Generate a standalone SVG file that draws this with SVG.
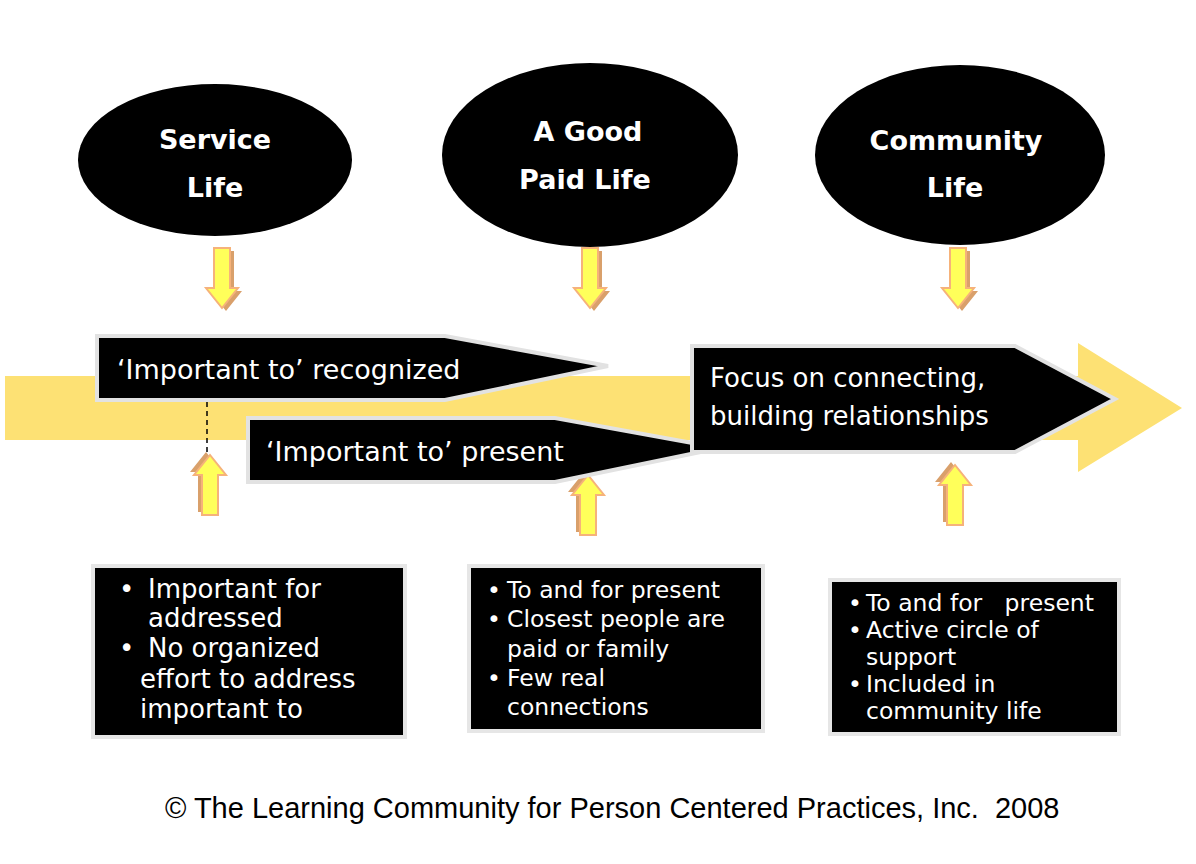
<svg xmlns="http://www.w3.org/2000/svg" width="1196" height="864" viewBox="0 0 1196 864">
<defs>
<style>
.ell{fill:#000}
.et{fill:#fff;font-family:"DejaVu Sans",sans-serif;font-weight:bold;font-size:27px;text-anchor:middle}
.ban{fill:#000;stroke:#e2e2e2;stroke-width:4;stroke-linejoin:miter}
.bt{fill:#fff;font-family:"DejaVu Sans",sans-serif;font-size:26px}
.bt2{fill:#fff;font-family:"DejaVu Sans",sans-serif;font-size:27px}
.box{fill:#000;stroke:#e6e6e6;stroke-width:4}
.xt{fill:#fff;font-family:"DejaVu Sans",sans-serif;font-size:23.5px}
.xt1{fill:#fff;font-family:"DejaVu Sans",sans-serif;font-size:26px}
.foot{fill:#000;font-family:"Liberation Sans",Arial,sans-serif;font-size:29px}
</style>
<g id="arr">
<path d="M-8,0 H8 V40 H16 L0,60 L-16,40 H-8 Z" fill="#d9a06b" transform="translate(4,3)"/>
<path d="M-8,0 H8 V40 H16 L0,60 L-16,40 H-8 Z" fill="#ffff5a" stroke="#f6b27a" stroke-width="2"/>
</g>
</defs>
<rect width="1196" height="864" fill="#fff"/>
<g id="band">
<path d="M5,376 H1078 V343 L1182,408 L1078,472 V440 H5 Z" fill="#fde174"/>
</g>
<g id="node-service"><ellipse class="ell" cx="215" cy="160" rx="137" ry="76"/><text class="et" x="215" y="149">Service</text><text class="et" x="215" y="197">Life</text></g>
<g id="node-paid"><ellipse class="ell" cx="590" cy="155" rx="148" ry="92"/><text class="et" x="588" y="141">A Good</text><text class="et" x="585" y="189">Paid Life</text></g>
<g id="node-community"><ellipse class="ell" cx="960" cy="155" rx="145" ry="90"/><text class="et" x="956" y="150">Community</text><text class="et" x="955" y="197">Life</text></g>
<g id="connectors">
<use href="#arr" x="222" y="248"/>
<use href="#arr" x="590" y="248"/>
<use href="#arr" x="958" y="248"/>
<use href="#arr" transform="translate(210,515) rotate(180)"/>
<use href="#arr" transform="translate(588,535) rotate(180)"/>
<use href="#arr" transform="translate(955,525) rotate(180)"/>
<line x1="207" y1="402" x2="207" y2="452" stroke="#000" stroke-width="1.5" stroke-dasharray="5,4"/>
</g>
<g id="banner-recognized"><path class="ban" d="M97,336 H445 L608,366 L445,400 H97 Z"/><text class="bt2" x="117" y="379">‘Important to’ recognized</text></g>
<g id="banner-present"><path class="ban" d="M248,418 H555 L720,448 L555,482 H248 Z"/><text class="bt2" x="266" y="461">‘Important to’ present</text></g>
<g id="banner-focus"><path class="ban" d="M692,346 H1015 L1115,399 L1015,452 H692 Z"/><text class="bt" x="710" y="387">Focus on connecting,</text><text class="bt" x="710" y="425">building relationships</text></g>
<g id="box-service"><rect class="box" x="93" y="566" width="312" height="171"/>
<text class="xt1" x="119" y="598">•</text><text class="xt1" x="148" y="598">Important for</text>
<text class="xt1" x="148" y="627">addressed</text>
<text class="xt1" x="119" y="657">•</text><text class="xt1" x="148" y="657">No organized</text>
<text class="xt1" x="140" y="688">effort to address</text>
<text class="xt1" x="140" y="718">important to</text></g>
<g id="box-paid"><rect class="box" x="469" y="566" width="294" height="165"/>
<text class="xt" x="487" y="598">•</text><text class="xt" x="507" y="598">To and for present</text>
<text class="xt" x="487" y="627">•</text><text class="xt" x="507" y="627">Closest people are</text>
<text class="xt" x="507" y="657">paid or family</text>
<text class="xt" x="487" y="686">•</text><text class="xt" x="507" y="686">Few real</text>
<text class="xt" x="507" y="715">connections</text></g>
<g id="box-community"><rect class="box" x="830" y="580" width="289" height="154"/>
<text class="xt" x="848" y="611">•</text><text class="xt" x="866" y="611" xml:space="preserve">To and for   present</text>
<text class="xt" x="848" y="638">•</text><text class="xt" x="866" y="638">Active circle of</text>
<text class="xt" x="866" y="665">support</text>
<text class="xt" x="848" y="692">•</text><text class="xt" x="866" y="692">Included in</text>
<text class="xt" x="866" y="719">community life</text></g>
<text class="foot" x="165" y="818" xml:space="preserve">© The Learning Community for Person Centered Practices, Inc.  2008</text>
</svg>
